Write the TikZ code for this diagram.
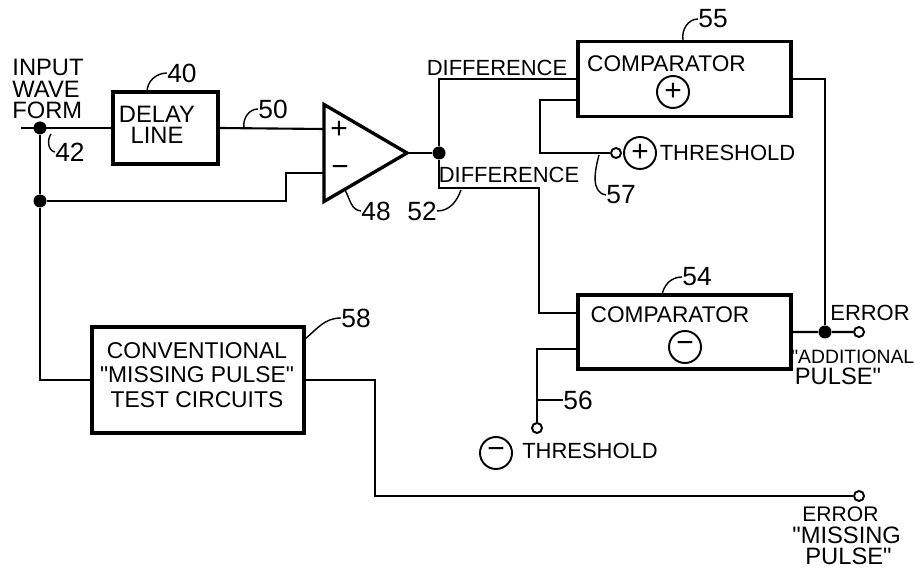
\documentclass[tikz,border=0pt]{standalone}
\usepackage{fontspec}
\setmainfont{Liberation Sans}[Ligatures=TeXOff]
\usetikzlibrary{shapes.geometric, positioning}

\begin{document}
\begin{tikzpicture}[x=0.02cm, y=-0.02cm, node distance=3.2cm]
        % Define block styles
        \tikzstyle{block} = [rectangle, draw, line width=1.9pt, inner sep=0pt]
        \tikzstyle{amplifier} = [isosceles triangle, isosceles triangle apex angle=60, isosceles triangle stretches, draw, line width=1.9pt, inner sep=0pt, outer sep=0pt, minimum width=1.94cm, minimum height=1.66cm]
        \tikzstyle{txt} = [inner sep=0pt, align=left, font=\fontsize{12.5}{12}\selectfont]
        \tikzstyle{bigtxt} = [inner sep=0pt, align=left, font=\fontsize{13.5}{12.3}\selectfont]
        \tikzstyle{num} = [inner sep=0pt, font=\fontsize{15}{15}\selectfont]
        \tikzstyle{signcircle} = [circle, draw, line width=1.1pt, inner sep=0pt, minimum size=0.64cm, font=\fontsize{17}{17}\selectfont]
        \tikzstyle{joint} = [circle, fill=black, inner sep=0pt, minimum size=0.26cm]
        \tikzstyle{terminal} = [circle, draw, fill=white, line width=1.1pt, inner sep=0pt, minimum size=0.2cm]
        \tikzstyle{wire} = [line width=1.2pt]
        \tikzstyle{leader} = [line width=0.8pt]

        \useasboundingbox (0,0) rectangle (915,570);

        % Blocks
        \node (delayline) [block, minimum width=2.1cm, minimum height=1.44cm] at (165.5,128) {};
        \node (amp) [amplifier, anchor=apex] at (407,153) {};
        \node (cmpplus) [block, minimum width=4.26cm, minimum height=1.5cm] at (684.5,79) {};
        \node (cmpminus) [block, below of=cmpplus, node distance=5.06cm, minimum width=4.26cm, minimum height=1.48cm] {};
        \node (testcircuits) [block, minimum width=4.24cm, minimum height=2.12cm] at (198,380) {};

        % Joints and terminals
        \coordinate (inputstart) at (21,128);
        \node (inputdot) [joint] at (40,128) {};
        \node (splitdot) [joint] at (40,201) {};
        \node (outdot) [joint] at (439,153) {};
        \node (errordot) [joint] at (825,332) {};
        \node (openplus) [terminal] at (616,153) {};
        \node (openminus) [terminal] at (537,428) {};
        \node (openerror) [terminal] at (859,332) {};
        \node (openmissing) [terminal] at (859,496) {};
        \coordinate (ampplus) at (324,129);
        \coordinate (ampminus) at (324,173);
        \coordinate (diffbend) at (539,188);

        % Texts
        \node (inputtext) [bigtxt] at (48,89) {INPUT\\WAVE\\FORM};
        \node (delaytext) [bigtxt, align=center] at (157,125) {DELAY\\LINE};
        \node (testtext) [inner sep=0pt, align=center, font=\fontsize{13}{14}\selectfont] at (197,375) {CONVENTIONAL\\"MISSING PULSE"\\TEST CIRCUITS};
        \node (plussign) [inner sep=0pt, font=\fontsize{17}{17}\selectfont] at (339,130) {+};
        \node (minussign) [inner sep=0pt, font=\fontsize{17}{17}\selectfont] at (340,171) {−};
        \node (difftop) [txt] at (497,68) {DIFFERENCE};
        \node (difflow) [txt] at (509,175) {DIFFERENCE};
        \node (cmpplustext) [txt, font=\fontsize{12.9}{12}\selectfont] at (666.5,64) {COMPARATOR};
        \node (cmpminustext) [txt, font=\fontsize{12.9}{12}\selectfont] at (670,315) {COMPARATOR};
        \node (cmpplussign) [signcircle] at (673,92) {+};
        \node (cmpminussign) [signcircle] at (685,347) {−};
        \node (threshplussign) [signcircle] at (640,153) {+};
        \node (threshminussign) [signcircle] at (496,453) {−};
        \node (threshplustext) [txt] at (727.5,153) {THRESHOLD};
        \node (threshminustext) [txt] at (590,451) {THRESHOLD};
        \node (errortext) [txt] at (870,313) {ERROR};
        \node (additionaltext) [txt, anchor=west, font=\fontsize{11}{12}\selectfont] at (791,367) {"ADDITIONAL\\\hspace*{2pt}{\fontsize{13.5}{12}\selectfont PULSE"}};
        \node (missingtext) [bigtxt, anchor=west] at (792,536) {\hspace*{5.7pt}{\fontsize{12}{12}\selectfont ERROR}\\"MISSING\\\hspace*{7.4pt}PULSE"};

        % Reference numerals
        \node (num40) [num] at (182,73) {40};
        \node (num42) [num] at (70,152) {42};
        \node (num50) [num] at (273,109) {50};
        \node (num48) [num] at (376,211) {48};
        \node (num52) [num] at (422,211) {52};
        \node (num55) [num] at (713,19) {55};
        \node (num57) [num] at (621,195) {57};
        \node (num54) [num] at (697,277) {54};
        \node (num56) [num] at (578,400) {56};
        \node (num58) [num] at (356,318) {58};

        % Wires
        \draw [wire] (inputstart) -- (delayline.west);
        \draw [wire] (inputdot) -- (splitdot);
        \draw [wire] (splitdot) |- (testcircuits.west);
        \draw [wire] (delayline.east) -- (ampplus);
        \draw [wire] (splitdot) -- ++(246,0) |- (ampminus);
        \draw [wire] (amp.apex) -- (outdot);
        \draw [wire] (outdot) |- (cmpplus.west);
        \draw [wire] (outdot) |- (diffbend) |- ([yshift=0.38cm]cmpminus.west);
        \draw [wire] ([yshift=-0.42cm]cmpplus.west) -- ++(-36,0) |- (openplus);
        \draw [wire] ([yshift=-0.34cm]cmpminus.west) -| (openminus);
        \draw [wire] (cmpplus.east) -| (errordot);
        \draw [wire] (cmpminus.east) -- (errordot) -- (openerror);
        \draw [wire] (testcircuits.east) -- ++(69,0) |- (openmissing);

        % Leaders
        \coordinate (tap40) at (147,92);
        \coordinate (tap42) at (51,134);
        \coordinate (tap50) at (244,128);
        \coordinate (tap48) at (345,190);
        \coordinate (tap52) at (461,190);
        \coordinate (tap55) at (683,40);
        \coordinate (tap57) at (599,155);
        \coordinate (tap54) at (662,295);
        \coordinate (tap56) at (537,400);
        \coordinate (tap58) at (305,339);
        \draw [leader] (tap40) to[out=90, in=180] (num40.west);
        \draw [leader] (tap42) to[out=235, in=170] (num42.west);
        \draw [leader] (tap50) to[out=100, in=180] (num50.west);
        \draw [leader] (tap48) to[out=-60, in=175] (num48.west);
        \draw [leader] (tap52) to[out=250, in=0] (num52.east);
        \draw [leader] (tap55) to[out=100, in=180] (num55.west);
        \draw [leader] (tap57) to[out=255, in=170] (num57.west);
        \draw [leader] (tap54) to[out=80, in=180] (num54.west);
        \draw [leader] (tap56) to[out=0, in=180] (num56.west);
        \draw [leader] (tap58) to[out=40, in=180] (num58.west);
    \end{tikzpicture}
\end{document}
